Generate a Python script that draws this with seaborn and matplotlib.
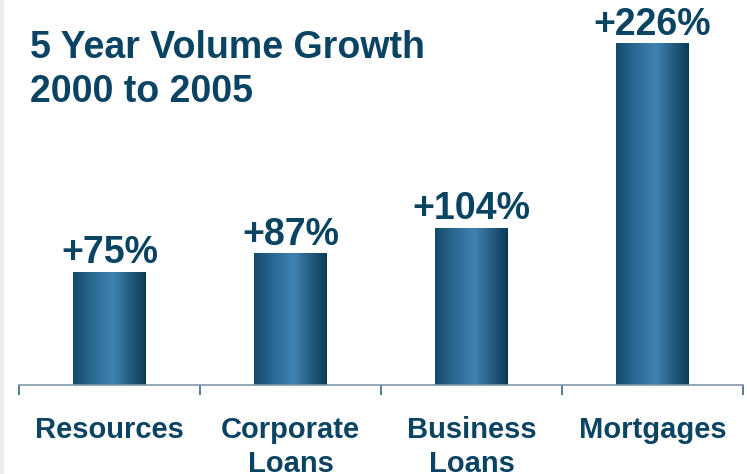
import numpy as np
import pandas as pd
import matplotlib
matplotlib.use("Agg")
import matplotlib.pyplot as plt
from matplotlib.colors import LinearSegmentedColormap
import seaborn as sns

categories = ["Resources", "Corporate\nLoans", "Business\nLoans", "Mortgages"]
growth_pct = [75, 87, 104, 226]
value_labels = ["+75%", "+87%", "+104%", "+226%"]
title_lines = "5 Year Volume Growth\n2000 to 2005"

TEXT = "#0a4462"
sns.set_theme(style="white")
plt.rcParams["font.family"] = ["Liberation Sans", "DejaVu Sans"]

df = pd.DataFrame({"category": categories, "growth": growth_pct})

fig = plt.figure(figsize=(7.47, 4.74), dpi=100)
W, H = 747, 474
ax = fig.add_axes([19 / W, 1 - 385 / H, (743 - 19) / W, (385 - 7) / H])

sns.barplot(data=df, x="category", y="growth", ax=ax, width=0.40,
            color="#2f6f98", saturation=1)

ax.set_xlim(-0.5, 3.5)
ax.set_ylim(0, 250)

# horizontal cylinder-like shading on each bar
shade = LinearSegmentedColormap.from_list(
    "barshade",
    [(0.0, "#154a6a"), (0.25, "#2a6790"), (0.55, "#3f83b3"),
     (0.8, "#23597c"), (1.0, "#0b3a56")])
grad = np.linspace(0, 1, 256).reshape(1, -1)
for patch in ax.patches:
    x0, y0 = patch.get_x(), patch.get_y()
    w, h = patch.get_width(), patch.get_height()
    im = ax.imshow(grad, cmap=shade, aspect="auto",
                   extent=[x0, x0 + w, y0, y0 + h], zorder=patch.get_zorder() + 0.1)
    im.set_clip_path(patch)
    ax.set_xlim(-0.5, 3.5)
    ax.set_ylim(0, 250)

for i, (v, lab) in enumerate(zip(growth_pct, value_labels)):
    ax.annotate(lab, (i, v), xytext=(0, 6), textcoords="offset points",
                ha="center", va="baseline", fontsize=27, fontweight="bold",
                color=TEXT)

for s in ["top", "right", "left"]:
    ax.spines[s].set_visible(False)
ax.spines["bottom"].set_color("#7f98a8")
ax.spines["bottom"].set_linewidth(1.2)
ax.set_yticks([])
ax.set_xlabel("")
ax.set_ylabel("")

ax.set_xticks([0, 1, 2, 3])
ax.set_xticklabels(categories, fontsize=21, fontweight="bold", color=TEXT,
                   linespacing=1.3, va="top")
ax.tick_params(axis="x", which="major", length=0, pad=22)
ax.set_xticks([-0.5, 0.5, 1.5, 2.5, 3.5], minor=True)
ax.tick_params(axis="x", which="minor", length=7, width=1.2,
               color="#3b6680", direction="out", bottom=True)

fig.text(30 / W, 1 - 30 / H, title_lines, ha="left", va="top",
         fontsize=27, fontweight="bold", color=TEXT, linespacing=1.27)

# faint left border strip
fig.patches.append(plt.Rectangle((0, 0), 3 / W, 1, transform=fig.transFigure,
                                 color="#e8ecef", zorder=0))

fig.savefig("out.png", dpi=100)
